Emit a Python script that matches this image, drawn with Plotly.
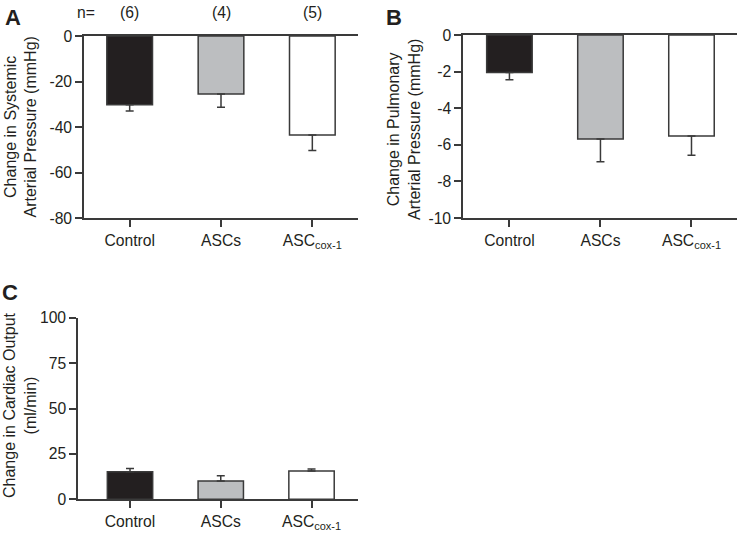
import plotly.graph_objects as go

W, H = 739, 536

categories = ["Control", "ASCs", "ASC<sub>cox-1</sub>"]
n_labels = ["(6)", "(4)", "(5)"]

sap_mean = [-30.2, -25.5, -43.5]
sap_err = [2.8, 5.8, 6.8]
sap_ticks = [0, -20, -40, -60, -80]

pap_mean = [-2.05, -5.68, -5.52]
pap_err = [0.4, 1.24, 1.05]
pap_ticks = [0, -2, -4, -6, -8, -10]

co_mean = [15.2, 10.1, 15.6]
co_err = [1.8, 2.8, 1.1]
co_ticks = [0, 25, 50, 75, 100]

bar_colors = ["#231f20", "#bcbec0", "#ffffff"]
edge = "#3a3a3a"
txt = "#231f20"
FONT = "Liberation Sans, Arial, sans-serif"

fig = go.Figure()


def px_x(p):
    return p / W


def px_y(p):
    return 1 - p / H


def add_bars(mean, err, xa, ya, negative):
    zeros = [0] * len(err)
    fig.add_trace(go.Bar(
        x=categories, y=mean, xaxis=xa, yaxis=ya, width=0.5,
        marker=dict(color=bar_colors, line=dict(color=edge, width=1.5)),
        error_y=dict(type="data", symmetric=False,
                     array=zeros if negative else err,
                     arrayminus=err if negative else zeros,
                     color=edge, thickness=1.5, width=4),
        showlegend=False, hoverinfo="skip"))


add_bars(sap_mean, sap_err, "x", "y", True)
add_bars(pap_mean, pap_err, "x2", "y2", True)
add_bars(co_mean, co_err, "x3", "y3", False)

axis_common = dict(showline=True, linecolor=edge, linewidth=1.5, ticks="outside",
                   tickcolor=edge, tickwidth=1.5, ticklen=7, showgrid=False,
                   zeroline=False, automargin=False,
                   tickfont=dict(family=FONT, size=15.7, color=txt))


def tick_text(vals):
    return [str(v) for v in vals]


fig.update_layout(
    template="none",
    width=W, height=H, margin=dict(l=0, r=0, t=0, b=0, pad=0, autoexpand=False),
    plot_bgcolor="white", paper_bgcolor="white",
    font=dict(family=FONT, color=txt),
    xaxis=dict(domain=[px_x(84), px_x(358)], anchor="y", range=[-0.5, 2.5],
               mirror=True, **axis_common),
    yaxis=dict(domain=[px_y(218), px_y(36)], anchor="x", range=[-80, 0],
               tickvals=sap_ticks, ticktext=tick_text(sap_ticks), **axis_common),
    xaxis2=dict(domain=[px_x(463), px_x(737)], anchor="y2", range=[-0.51, 2.5],
                mirror=True, **axis_common),
    yaxis2=dict(domain=[px_y(218), px_y(35)], anchor="x2", range=[-10, 0],
                tickvals=pap_ticks, ticktext=tick_text(pap_ticks), **axis_common),
    xaxis3=dict(domain=[px_x(78), px_x(358)], anchor="y3", range=[-0.573, 2.512],
                **axis_common),
    yaxis3=dict(domain=[px_y(499.3), px_y(317.7)], anchor="x3", range=[0, 100],
                tickvals=co_ticks, ticktext=tick_text(co_ticks), **axis_common),
)

ann = []
for lab, x, y in [("A", 13, 17), ("B", 394, 17), ("C", 10, 292)]:
    ann.append(dict(text=f"<b>{lab}</b>", x=px_x(x), y=px_y(y), xref="paper", yref="paper",
                    xanchor="center", yanchor="middle",
                    showarrow=False, font=dict(family=FONT, size=22, color=txt)))
ann.append(dict(text="n=", x=px_x(86), y=px_y(13), xref="paper", yref="paper",
                xanchor="center", yanchor="middle",
                showarrow=False, font=dict(family=FONT, size=15.7, color=txt)))
for c, n in zip(categories, n_labels):
    ann.append(dict(text=n, x=c, y=px_y(13), xref="x", yref="paper",
                    xanchor="center", yanchor="middle",
                    showarrow=False, font=dict(family=FONT, size=15.7, color=txt)))
for text, x, y in [("Change in Systemic<br>Arterial Pressure (mmHg)", 20.5, 127),
                   ("Change in Pulmonary<br>Arterial Pressure (mmHg)", 404, 130),
                   ("Change in Cardiac Output<br>(ml/min)", 20, 405)]:
    ann.append(dict(text=text, x=px_x(x), y=px_y(y), xref="paper", yref="paper",
                    xanchor="center", yanchor="middle",
                    showarrow=False, textangle=-90,
                    font=dict(family=FONT, size=16, color=txt)))
fig.update_layout(annotations=ann)

fig.write_html("out.html", config={"displayModeBar": False},
               post_script="document.body.style.margin='0px';")
